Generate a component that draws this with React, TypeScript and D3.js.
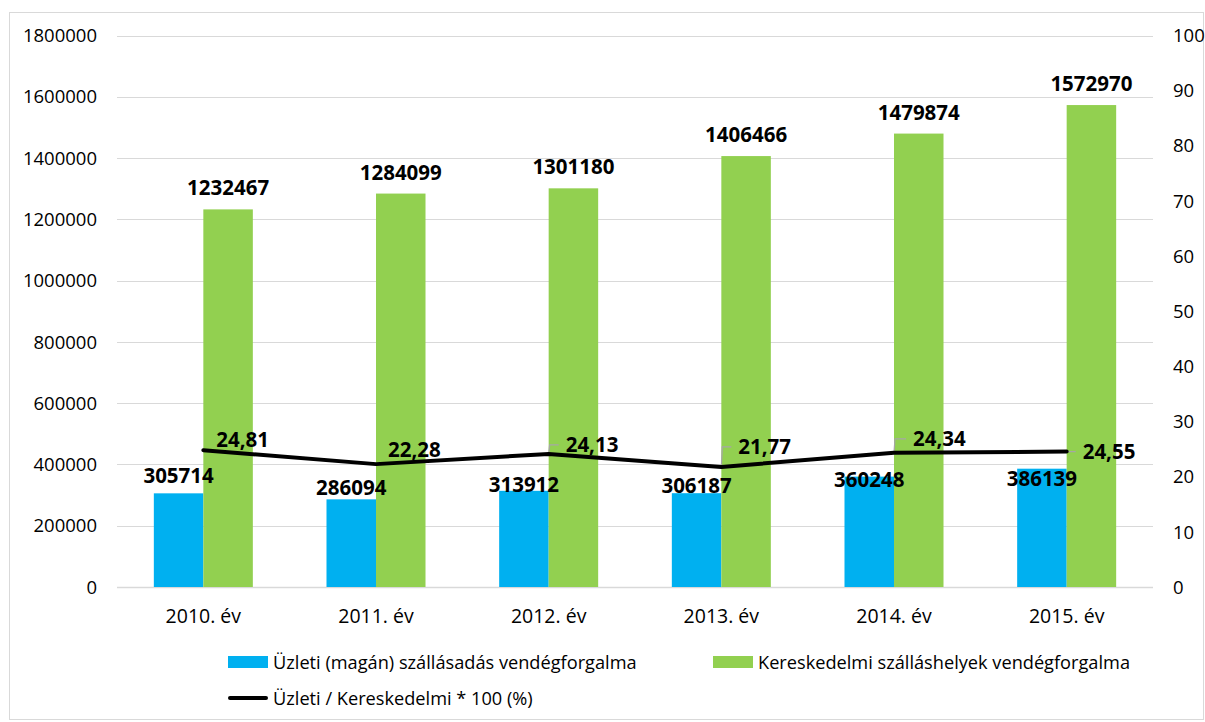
import { useEffect, useRef } from 'react'
import * as d3 from 'd3'

const years = ['2010. év', '2011. év', '2012. év', '2013. év', '2014. év', '2015. év']
const uzleti = [305714, 286094, 313912, 306187, 360248, 386139]
const kereskedelmi = [1232467, 1284099, 1301180, 1406466, 1479874, 1572970]
const arany = [24.81, 22.28, 24.13, 21.77, 24.34, 24.55]
const aranyLabels = ['24,81', '22,28', '24,13', '21,77', '24,34', '24,55']
const leftTicks = [0, 200000, 400000, 600000, 800000, 1000000, 1200000, 1400000, 1600000, 1800000]
const rightTicks = [0, 10, 20, 30, 40, 50, 60, 70, 80, 90, 100]

// label nudges for the line labels (Excel moved some of them by hand)
const lineLabelOffsets = [
    { dx: 13, dy: -11, leader: false },
    { dx: 12, dy: -15, leader: false },
    { dx: 17, dy: -9, leader: true },
    { dx: 17, dy: -20, leader: true },
    { dx: 19, dy: -14, leader: true },
    { dx: 16, dy: 0, leader: true },
]
// blue labels were dragged down so they don't hit the line
const blueLabelGaps = [10, 4, -1, 0, -10, -17]

const BLUE = '#00b0f0'
const GREEN = '#92d050'
const GRID = '#d9d9d9'
const FONT = 'Open Sans, sans-serif'

export default function App() {
    const svgRef = useRef<SVGSVGElement>(null)

    useEffect(() => {
        if (!svgRef.current) return
        const svg = d3.select(svgRef.current)
        svg.selectAll('*').remove()

        const width = 1205
        const height = 722
        const plot = { left: 117, right: 1153, top: 35.5, bottom: 587 }

        svg.attr('width', width).attr('height', height)

        // outer chart border
        svg.append('rect')
            .attr('x', 9.5)
            .attr('y', 12.5)
            .attr('width', 1194)
            .attr('height', 707)
            .attr('fill', 'white')
            .attr('stroke', GRID)
            .attr('stroke-width', 1)

        const x = d3.scaleBand<string>()
            .domain(years)
            .range([plot.left, plot.right])
            .padding(0)

        const xSub = d3.scaleBand<string>()
            .domain(['uzleti', 'keresk'])
            .range([0, x.bandwidth()])
            .paddingInner(0)
            .paddingOuter(0.744)

        const yLeft = d3.scaleLinear().domain([0, 1800000]).range([plot.bottom, plot.top])
        const yRight = d3.scaleLinear().domain([0, 100]).range([plot.bottom, plot.top])

        // gridlines
        svg.append('g')
            .selectAll('line')
            .data(leftTicks)
            .enter()
            .append('line')
            .attr('x1', plot.left)
            .attr('x2', plot.right)
            .attr('y1', d => Math.round(yLeft(d)) + 0.5)
            .attr('y2', d => Math.round(yLeft(d)) + 0.5)
            .attr('stroke', GRID)
            .attr('stroke-width', d => (d === 0 ? 1.5 : 1))

        // left axis labels
        svg.append('g')
            .selectAll('text')
            .data(leftTicks)
            .enter()
            .append('text')
            .attr('x', 97)
            .attr('y', d => yLeft(d))
            .attr('dy', '0.36em')
            .attr('text-anchor', 'end')
            .style('font-family', FONT)
            .style('font-size', '18.5px')
            .style('fill', '#000')
            .text(d => String(d))

        // right axis labels
        svg.append('g')
            .selectAll('text')
            .data(rightTicks)
            .enter()
            .append('text')
            .attr('x', 1173)
            .attr('y', d => yRight(d))
            .attr('dy', '0.36em')
            .attr('text-anchor', 'start')
            .style('font-family', FONT)
            .style('font-size', '18.5px')
            .style('fill', '#000')
            .text(d => String(d))

        // category labels
        svg.append('g')
            .selectAll('text')
            .data(years)
            .enter()
            .append('text')
            .attr('x', d => x(d)! + x.bandwidth() / 2)
            .attr('y', 623)
            .attr('text-anchor', 'middle')
            .style('font-family', FONT)
            .style('font-size', '19.5px')
            .style('fill', '#000')
            .text(d => d)

        // bars
        const series = [
            { key: 'uzleti', values: uzleti, color: BLUE, gaps: blueLabelGaps },
            { key: 'keresk', values: kereskedelmi, color: GREEN, gaps: kereskedelmi.map(() => 14) },
        ]
        series.forEach(s => {
            const g = svg.append('g')
            g.selectAll('rect')
                .data(s.values)
                .enter()
                .append('rect')
                .attr('x', (_, i) => x(years[i])! + xSub(s.key)!)
                .attr('width', xSub.bandwidth())
                .attr('y', d => yLeft(d))
                .attr('height', d => plot.bottom - yLeft(d))
                .attr('fill', s.color)
        })

        // line + leaders
        const pts = arany.map((v, i) => [x(years[i])! + x.bandwidth() / 2, yRight(v)] as [number, number])

        const leaders = svg.append('g')
        pts.forEach((p, i) => {
            const o = lineLabelOffsets[i]
            if (!o.leader) return
            const ly = p[1] + o.dy
            const lx = p[0] + o.dx - 7
            const path = o.dy === 0
                ? `M${p[0]},${p[1]}L${lx},${ly}`
                : `M${p[0]},${p[1]}L${p[0] + 1},${ly}L${lx},${ly}`
            leaders.append('path')
                .attr('d', path)
                .attr('fill', 'none')
                .attr('stroke', '#a6a6a6')
                .attr('stroke-width', 1.25)
        })

        svg.append('path')
            .datum(pts)
            .attr('d', d3.line())
            .attr('fill', 'none')
            .attr('stroke', '#000')
            .attr('stroke-width', 4)
            .attr('stroke-linejoin', 'round')
            .attr('stroke-linecap', 'round')

        // bar labels (drawn after the line, like excel)
        series.forEach(s => {
            svg.append('g')
                .selectAll('text')
                .data(s.values)
                .enter()
                .append('text')
                .attr('x', (_, i) => x(years[i])! + xSub(s.key)! + xSub.bandwidth() / 2)
                .attr('y', (d, i) => yLeft(d) - s.gaps[i])
                .attr('text-anchor', 'middle')
                .style('font-family', FONT)
                .style('font-size', '20.5px')
                .style('font-weight', 'bold')
                .style('fill', '#000')
                .text(d => String(d))
        })

        // line labels
        svg.append('g')
            .selectAll('text')
            .data(aranyLabels)
            .enter()
            .append('text')
            .attr('x', (_, i) => pts[i][0] + lineLabelOffsets[i].dx)
            .attr('y', (_, i) => pts[i][1] + lineLabelOffsets[i].dy)
            .attr('dy', '0.36em')
            .style('font-family', FONT)
            .style('font-size', '20.5px')
            .style('font-weight', 'bold')
            .style('fill', '#000')
            .text(d => d)

        // legend
        const legend = svg.append('g').style('font-family', FONT).style('font-size', '18.2px')
        const items = [
            { label: 'Üzleti (magán) szállásadás vendégforgalma', color: BLUE, type: 'rect', lx: 228, ly: 662 },
            { label: 'Kereskedelmi szálláshelyek vendégforgalma', color: GREEN, type: 'rect', lx: 713, ly: 662 },
            { label: 'Üzleti / Kereskedelmi * 100 (%)', color: '#000', type: 'line', lx: 228, ly: 698 },
        ]
        items.forEach(it => {
            if (it.type === 'rect') {
                legend.append('rect')
                    .attr('x', it.lx)
                    .attr('y', it.ly - 6)
                    .attr('width', 40)
                    .attr('height', 12)
                    .attr('fill', it.color)
            } else {
                legend.append('line')
                    .attr('x1', it.lx + 2)
                    .attr('x2', it.lx + 38)
                    .attr('y1', it.ly)
                    .attr('y2', it.ly)
                    .attr('stroke', it.color)
                    .attr('stroke-width', 4)
                    .attr('stroke-linecap', 'round')
            }
            legend.append('text')
                .attr('x', it.lx + 45)
                .attr('y', it.ly)
                .attr('dy', '0.36em')
                .style('fill', '#000')
                .text(it.label)
        })
    }, [])

    return (
        <div style={{ position: 'absolute', left: 0, top: 0 }}>
            <svg ref={svgRef} style={{ display: 'block' }}></svg>
        </div>
    )
}
